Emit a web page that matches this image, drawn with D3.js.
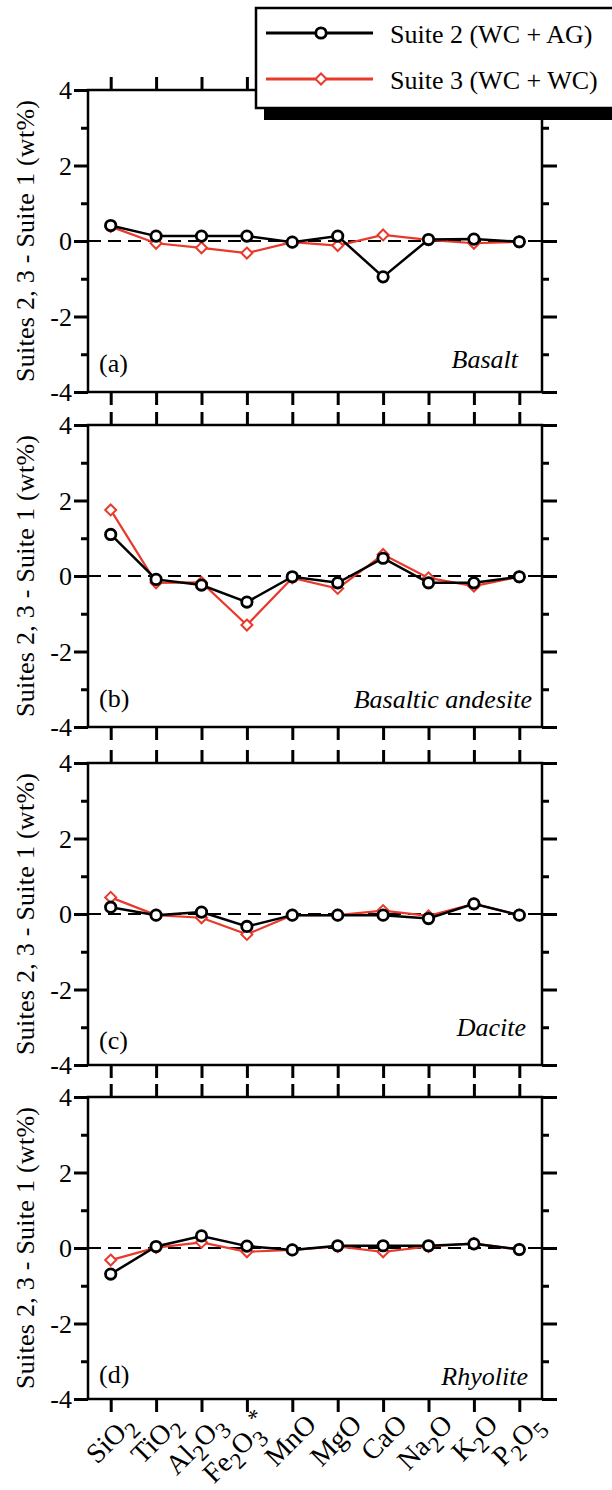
<!DOCTYPE html>
<html>
<head>
<meta charset="utf-8">
<script src="https://cdn.jsdelivr.net/npm/d3@7"></script>
<style>
  body { margin: 0; background: #fff; }
  svg { display: block; }
  text { font-family: "Liberation Serif", "Times New Roman", serif; }
</style>
</head>
<body>
<div id="chart"></div>
<script>
// ---- data ----
const oxides = ["SiO_2", "TiO_2", "Al_2O_3", "Fe_2O_3^*", "MnO", "MgO", "CaO", "Na_2O", "K_2O", "P_2O_5"];
const rockTypes = ["Basalt", "Basaltic andesite", "Dacite", "Rhyolite"];
const panelTags = ["(a)", "(b)", "(c)", "(d)"];
const seriesNames = ["Suite 2 (WC + AG)", "Suite 3 (WC + WC)"];

const suite2Basalt   = [0.41, 0.13, 0.13, 0.13, -0.03, 0.13, -0.95, 0.04, 0.05, -0.02];
const suite3Basalt   = [0.38, -0.06, -0.18, -0.32, -0.03, -0.12, 0.16, 0.03, -0.06, -0.02];
const suite2BasAnd   = [1.10, -0.09, -0.24, -0.69, -0.02, -0.18, 0.47, -0.18, -0.18, -0.02];
const suite3BasAnd   = [1.75, -0.18, -0.17, -1.30, -0.05, -0.33, 0.57, -0.05, -0.27, -0.02];
const suite2Dacite   = [0.18, -0.03, 0.05, -0.33, -0.03, -0.03, -0.03, -0.12, 0.27, -0.03];
const suite3Dacite   = [0.44, -0.03, -0.10, -0.54, -0.03, -0.03, 0.09, -0.05, 0.27, -0.03];
const suite2Rhyolite = [-0.69, 0.04, 0.32, 0.05, -0.05, 0.06, 0.06, 0.06, 0.11, -0.04];
const suite3Rhyolite = [-0.32, 0.01, 0.15, -0.10, -0.05, 0.04, -0.10, 0.04, 0.12, -0.04];

const suite2 = [suite2Basalt, suite2BasAnd, suite2Dacite, suite2Rhyolite];
const suite3 = [suite3Basalt, suite3BasAnd, suite3Dacite, suite3Rhyolite];

const yDomain = [-4, 4];
const yMajor = [-4, -2, 0, 2, 4];
const yMinor = [-3, -1, 1, 3];

// ---- layout ----
const W = 612, H = 1490;
const frameL = 88, frameR = 542;
const panelTops = [90, 425, 763, 1097];
const panelH = 302;
const nameRight = [518, 532, 526, 528];
const nameBase = [278, 283, 273, 288];
const tagBase = [282, 282, 286, 286];

const BLACK = "#000";
const RED = "#e8392b";

const svg = d3.select("#chart").append("svg")
  .attr("width", W)
  .attr("height", H);

const x = d3.scalePoint().domain(oxides).range([frameL, frameR]).padding(0.5);

const fmtY = (d) => (d < 0 ? "-" + Math.abs(d) : String(d));

function diamond(r) {
  return `M0,${-r}L${r},0L0,${r}L${-r},0Z`;
}

function styleTicks(sel) {
  sel.select(".domain").remove();
  sel.attr("font-family", null).attr("font-size", null);
  sel.selectAll("line").attr("stroke", BLACK).attr("stroke-width", 3);
}

// sub/superscript label parts: "_2" -> subscript, "^*" -> superscript
function addChemText(textSel, label, big, small) {
  const parts = label.split(/(_\w|\^\*)/).filter((p) => p !== "");
  let shift = 0;
  parts.forEach((p) => {
    let target = 0, txt = p, size = big;
    if (p[0] === "_") { target = 8; txt = p.slice(1); size = small; }
    else if (p[0] === "^") { target = -11; txt = p.slice(1); size = small; }
    textSel.append("tspan")
      .attr("dy", target - shift)
      .attr("font-size", size)
      .text(txt);
    shift = target;
  });
}

rockTypes.forEach((rock, i) => {
  const top = panelTops[i];
  const bottom = top + panelH;
  const y = d3.scaleLinear().domain(yDomain).range([bottom, top]);
  const g = svg.append("g").attr("class", "panel");

  // frame
  g.append("rect")
    .attr("x", frameL)
    .attr("y", top)
    .attr("width", frameR - frameL)
    .attr("height", panelH)
    .attr("fill", "none")
    .attr("stroke", BLACK)
    .attr("stroke-width", 2.5);

  // zero line
  g.append("line")
    .attr("x1", frameL)
    .attr("x2", frameR)
    .attr("y1", y(0))
    .attr("y2", y(0))
    .attr("stroke", BLACK)
    .attr("stroke-width", 2.2)
    .attr("stroke-dasharray", "13,7");

  // y axes (left with labels, right without)
  g.append("g")
    .attr("transform", `translate(${frameL},0)`)
    .call(d3.axisLeft(y).tickValues(yMajor).tickSize(14).tickSizeOuter(0).tickFormat(fmtY))
    .call(styleTicks)
    .call((s) => s.selectAll("text")
      .attr("x", -16)
      .attr("dy", "0.34em")
      .attr("font-size", 26)
      .attr("fill", BLACK));

  g.append("g")
    .attr("transform", `translate(${frameL},0)`)
    .call(d3.axisLeft(y).tickValues(yMinor).tickSize(7).tickSizeOuter(0).tickFormat(""))
    .call(styleTicks);

  g.append("g")
    .attr("transform", `translate(${frameR},0)`)
    .call(d3.axisRight(y).tickValues(yMajor).tickSize(15).tickSizeOuter(0).tickFormat(""))
    .call(styleTicks);

  g.append("g")
    .attr("transform", `translate(${frameR},0)`)
    .call(d3.axisRight(y).tickValues(yMinor).tickSize(7).tickSizeOuter(0).tickFormat(""))
    .call(styleTicks);

  // x ticks top and bottom
  g.append("g")
    .attr("transform", `translate(0,${top})`)
    .call(d3.axisTop(x).tickSize(13).tickSizeOuter(0).tickFormat(""))
    .call(styleTicks);

  const xb = g.append("g")
    .attr("transform", `translate(0,${bottom})`)
    .call(d3.axisBottom(x).tickSize(13).tickSizeOuter(0).tickFormat(""))
    .call(styleTicks);

  if (i === rockTypes.length - 1) {
    xb.selectAll(".tick").each(function (d) {
      const t = d3.select(this).append("text")
        .attr("text-anchor", "end")
        .attr("transform", `translate(25,27) rotate(-45)`)
        .attr("font-size", 28)
        .attr("fill", BLACK);
      addChemText(t, d, 28, 23);
    });
  }

  // y axis title
  svg.append("text")
    .attr("transform", `translate(34,${top + panelH / 2}) rotate(-90)`)
    .attr("text-anchor", "middle")
    .attr("font-size", 26)
    .attr("textLength", 282)
    .attr("lengthAdjust", "spacing")
    .attr("fill", BLACK)
    .text("Suites 2, 3 - Suite 1 (wt%)");

  // panel tag + rock name
  g.append("text")
    .attr("x", frameL + 11)
    .attr("y", top + tagBase[i])
    .attr("font-size", 26)
    .attr("fill", BLACK)
    .text(panelTags[i]);

  g.append("text")
    .attr("x", nameRight[i])
    .attr("y", top + nameBase[i])
    .attr("text-anchor", "end")
    .attr("font-size", 26)
    .attr("font-style", "italic")
    .attr("fill", BLACK)
    .text(rock);

  // series: red first, black on top
  const line = d3.line()
    .x((d, j) => x(oxides[j]))
    .y((d) => y(d));

  g.append("path")
    .datum(suite3[i])
    .attr("d", line)
    .attr("fill", "none")
    .attr("stroke", RED)
    .attr("stroke-width", 2.2);

  g.append("g").selectAll("path.dia")
    .data(suite3[i])
    .join("path")
    .attr("class", "dia")
    .attr("d", diamond(5.5))
    .attr("transform", (d, j) => `translate(${x(oxides[j])},${y(d)})`)
    .attr("fill", "#fff")
    .attr("stroke", RED)
    .attr("stroke-width", 2);

  g.append("path")
    .datum(suite2[i])
    .attr("d", line)
    .attr("fill", "none")
    .attr("stroke", BLACK)
    .attr("stroke-width", 2.5);

  g.append("g").selectAll("circle")
    .data(suite2[i])
    .join("circle")
    .attr("cx", (d, j) => x(oxides[j]))
    .attr("cy", (d) => y(d))
    .attr("r", 5.2)
    .attr("fill", "#fff")
    .attr("stroke", BLACK)
    .attr("stroke-width", 2.8);
});

// ---- legend ----
const lg = svg.append("g").attr("class", "legend");

lg.append("rect")
  .attr("x", 264).attr("y", 20)
  .attr("width", 400).attr("height", 100)
  .attr("fill", BLACK);

lg.append("rect")
  .attr("x", 256).attr("y", 8)
  .attr("width", 400).attr("height", 100)
  .attr("fill", "#fff")
  .attr("stroke", BLACK)
  .attr("stroke-width", 2.5);

const legendRows = [
  { name: seriesNames[0], color: BLACK, y: 33, mark: "circle" },
  { name: seriesNames[1], color: RED, y: 79, mark: "diamond" },
];

legendRows.forEach((r) => {
  lg.append("line")
    .attr("x1", 266).attr("x2", 373)
    .attr("y1", r.y).attr("y2", r.y)
    .attr("stroke", r.color)
    .attr("stroke-width", 2.8);

  if (r.mark === "circle") {
    lg.append("circle")
      .attr("cx", 321).attr("cy", r.y).attr("r", 5.2)
      .attr("fill", "#fff").attr("stroke", r.color).attr("stroke-width", 2.8);
  } else {
    lg.append("path")
      .attr("d", diamond(5.5))
      .attr("transform", `translate(321,${r.y})`)
      .attr("fill", "#fff").attr("stroke", r.color).attr("stroke-width", 2);
  }

  lg.append("text")
    .attr("x", 390)
    .attr("y", r.y + 10)
    .attr("font-size", 26)
    .attr("fill", BLACK)
    .text(r.name);
});
</script>
</body>
</html>
